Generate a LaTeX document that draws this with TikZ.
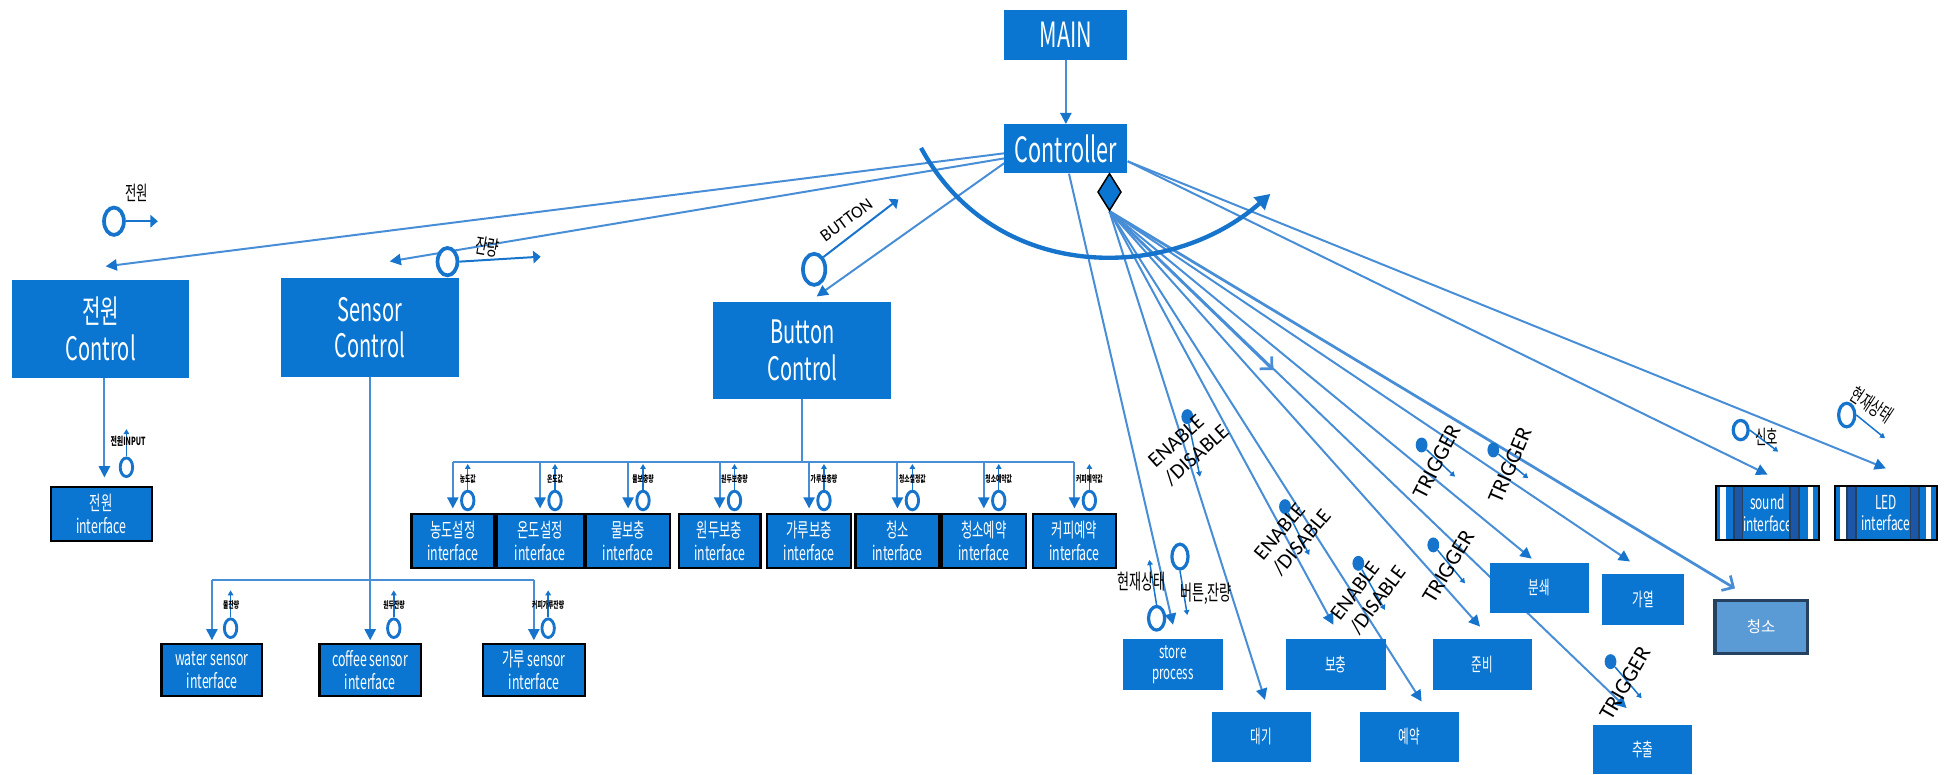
\documentclass[tikz,border=0pt]{standalone}
\usepackage{fontspec}
\usetikzlibrary{arrows.meta,shapes.geometric,calc}
\newfontfamily\kr[FakeStretch=0.62]{Noto Sans CJK KR}
\newfontfamily\krn{Noto Sans CJK KR}
\newfontfamily\calfont{Carlito}
\definecolor{boxblue}{RGB}{10,118,210}
\definecolor{lineblue}{RGB}{72,142,214}
\definecolor{arrblue}{RGB}{22,116,204}
\definecolor{lightbox}{RGB}{91,155,213}
\definecolor{navy}{RGB}{38,64,96}
\definecolor{barfill}{RGB}{28,86,168}
\pgfdeclarelayer{background}
\pgfsetlayers{background,main}
\tikzset{
  ubox/.style={rectangle, fill=boxblue, text=white, inner sep=0pt, align=center, font=\kr\fontsize{15}{17}\selectfont},
  bigbox/.style={ubox, font=\kr\fontsize{26}{29.5}\selectfont},
  topbox/.style={ubox, font=\kr\fontsize{28}{30}\selectfont},
  ifbox/.style={ubox, draw=black, line width=1.8pt, font=\kr\fontsize{16}{18.5}\selectfont},
  ln/.style={draw=lineblue, line width=1.6pt},
  arr/.style={ln, -{Triangle[length=9pt,width=9pt,color=arrblue]}},
  barb/.style={draw=lineblue, line width=2.2pt, -{Straight Barb[length=7pt,width=14pt]}},
  sarr/.style={draw=arrblue, line width=1.2pt, -{Triangle[length=4pt,width=4.5pt]}},
  marr/.style={draw=arrblue, line width=1.6pt, -{Triangle[length=6pt,width=10pt]}},
  oc/.style={ellipse, draw=arrblue, fill=white, line width=3pt, inner sep=0pt, minimum width=16pt, minimum height=22pt},
  mc/.style={oc, line width=2.6pt, minimum width=13pt, minimum height=19pt},
  sc/.style={oc, line width=2.3pt, minimum width=10pt, minimum height=15pt},
  fdot/.style={ellipse, fill=arrblue, inner sep=0pt, minimum width=9.5pt, minimum height=12pt},
  minilab/.style={inner sep=0pt, text=black, font=\kr\bfseries\fontsize{7.5}{8}\selectfont},
  klab/.style={inner sep=0pt, text=black, font=\kr\fontsize{17}{18}\selectfont},
  elab/.style={inner sep=0pt, text=black, align=left, font=\calfont\fontsize{17}{19}\selectfont},
  tlab/.style={inner sep=0pt, text=black, font=\calfont\fontsize{18}{20}\selectfont},
}
\begin{document}
\begin{tikzpicture}[x=1pt,y=-1pt]
\useasboundingbox (0,0) rectangle (1568,623);
% ---------- main nodes
\node[topbox, minimum width=99pt, minimum height=40pt] (main) at (857.5,28) {MAIN};
\node[topbox, minimum width=99pt, minimum height=39.5pt] (ctrl) at (857.5,119.75) {Controller};
\node[diamond, shape aspect=0.63, fill=boxblue, draw=black, line width=1.2pt, inner sep=0pt, minimum width=19pt, minimum height=30pt] (dm) at (892.6,154.5) {};
\node[bigbox, minimum width=142pt, minimum height=79pt] (jwc) at (81,264.5) {전원\\Control};
\node[bigbox, minimum width=143pt, minimum height=79pt] (sen) at (297.5,263.5) {Sensor\\Control};
\node[bigbox, minimum width=143pt, minimum height=78pt] (btn) at (645.5,282) {Button\\Control};
\node[ifbox, minimum width=81pt, minimum height=43pt] (jwi) at (81.5,413.5) {전원\\interface};
\node[ifbox, minimum width=81pt, minimum height=42pt] (ws) at (170.5,539) {water sensor\\interface};
\node[ifbox, minimum width=81.6pt, minimum height=42pt] (cs) at (297.8,539) {coffee sensor\\interface};
\node[ifbox, minimum width=81.7pt, minimum height=42pt] (gs) at (429.5,539) {가루 sensor\\interface};
\node[ifbox, minimum width=66.5pt, minimum height=43.7pt] (b1) at (364.3,435.3) {농도설정\\interface};
\node[ifbox, minimum width=70.2pt, minimum height=43.7pt] (b2) at (434.5,435.3) {온도설정\\interface};
\node[ifbox, minimum width=67.5pt, minimum height=43.7pt] (b3) at (505.3,435.3) {물보충\\interface};
\node[ifbox, minimum width=65.7pt, minimum height=43.7pt] (b4) at (578.9,435.3) {원두보충\\interface};
\node[ifbox, minimum width=67.2pt, minimum height=43.7pt] (b5) at (650.9,435.3) {가루보충\\interface};
\node[ifbox, minimum width=67.5pt, minimum height=43.7pt] (b6) at (722,435.3) {청소\\interface};
\node[ifbox, minimum width=67.6pt, minimum height=43.7pt] (b7) at (791.5,435.3) {청소예약\\interface};
\node[ifbox, minimum width=67.2pt, minimum height=43.7pt] (b8) at (864.4,435.3) {커피예약\\interface};
\node[ubox, minimum width=80pt, minimum height=40.8pt] (store) at (943.7,534.7) {store\\process};
\node[ubox, minimum width=79.7pt, minimum height=40.3pt] (daegi) at (1014.7,592.7) {대기};
\node[ubox, minimum width=80.2pt, minimum height=40.8pt] (bochung) at (1074.7,534.7) {보충};
\node[ubox, minimum width=80pt, minimum height=40.3pt] (yeyak) at (1134,592.7) {예약};
\node[ubox, minimum width=79.6pt, minimum height=40.8pt] (junbi) at (1192.4,534.7) {준비};
\node[ubox, minimum width=79.7pt, minimum height=40.7pt] (bunswae) at (1238.5,473) {분쇄};
\node[ubox, minimum width=66pt, minimum height=40.8pt] (gayeol) at (1322,482.4) {가열};
\node[ubox, minimum width=79.7pt, minimum height=39.7pt] (chuchul) at (1321.6,603.2) {추출};
\node[rectangle, fill=lightbox, draw=navy, line width=2.5pt, text=white, inner sep=0pt, minimum width=74.2pt, minimum height=42.1pt, font=\krn\fontsize{12.5}{14}\selectfont] (cheong) at (1416.8,504.5) {청소};
\node[ubox, minimum width=82pt, minimum height=43.4pt, font=\kr\fontsize{15.5}{17}\selectfont] (snd) at (1422,412.7) {sound\\interface};
\node[ubox, minimum width=81.7pt, minimum height=43.4pt, font=\kr\fontsize{15.5}{17}\selectfont] (led) at (1517.2,412.7) {LED\\interface};
% stripes of sound / LED boxes
\fill[white] ([xshift=3.3pt]snd.south west) rectangle ([xshift=8.1pt]snd.north west);
\fill[white] ([xshift=73.8pt]snd.south west) rectangle ([xshift=77.8pt]snd.north west);
\filldraw[fill=barfill, draw=navy, line width=1.5pt] ([xshift=14.3pt]snd.south west) rectangle ([xshift=21pt]snd.north west);
\filldraw[fill=barfill, draw=navy, line width=1.5pt] ([xshift=59.6pt]snd.south west) rectangle ([xshift=66.5pt]snd.north west);
\draw[black, line width=1.6pt] (snd.south west) rectangle (snd.north east);
\fill[white] ([xshift=4pt]led.south west) rectangle ([xshift=8.8pt]led.north west);
\fill[white] ([xshift=73.2pt]led.south west) rectangle ([xshift=77.2pt]led.north west);
\filldraw[fill=barfill, draw=navy, line width=1.5pt] ([xshift=9.9pt]led.south west) rectangle ([xshift=16.9pt]led.north west);
\filldraw[fill=barfill, draw=navy, line width=1.5pt] ([xshift=60.8pt]led.south west) rectangle ([xshift=67.8pt]led.north west);
\draw[black, line width=1.6pt] (led.south west) rectangle (led.north east);
% ---------- coordinates
\coordinate (sbus) at (297.5,467);
\coordinate (bbus) at (645.5,371.4);
\coordinate (free) at (1024.4,297.7);
% ---------- connectors (behind boxes)
\begin{pgfonlayer}{background}
\draw[arr] (main.south) -- (ctrl.north);
\draw[arr] ([yshift=-3.6pt]ctrl.west) -- ([xshift=4pt,yshift=10.5pt]jwc.north);
\draw[arr] ([yshift=-7.7pt]ctrl.west) -- ([xshift=16pt,yshift=13.5pt]sen.north);
\draw[arr] ([yshift=-11.6pt]ctrl.west) -- ([xshift=11.5pt,yshift=4.3pt]btn.north);
\draw[arr] ([xshift=2.5pt]ctrl.south) -- ([yshift=11.5pt]store.north);
\draw[arr] ([yshift=-10pt]ctrl.east) -- ([yshift=9pt]snd.north);
\draw[arr] ([yshift=-10pt]ctrl.east) -- ([yshift=14pt]led.north);
\draw[arr] (dm.south) -- ([xshift=3pt,yshift=9.3pt]daegi.north);
\draw[arr] (dm.south) -- ([xshift=-2pt,yshift=11.5pt]bochung.north);
\draw[arr] (dm.south) -- ([xshift=9.7pt,yshift=8pt]yeyak.north);
\draw[arr] (dm.south) -- ([xshift=-1.7pt,yshift=10pt]junbi.north);
\draw[arr] (dm.south) -- ([xshift=-6.3pt,yshift=3pt]bunswae.north);
\draw[arr] (dm.south) -- ([xshift=-13pt,yshift=13.5pt]chuchul.north);
\draw[arr] (dm.south) -- ([xshift=-10.7pt,yshift=10.1pt]gayeol.north);
\draw[barb] (dm.south) -- ([xshift=-21pt,yshift=8.8pt]cheong.north);
\draw[barb] (dm.south) -- (free);
% power
\draw[arr] ([xshift=3pt]jwc.south) -- ([xshift=2.5pt,yshift=7pt]jwi.north);
% sensor tree
\draw[ln] (sen.south) -- (sbus);
\draw[ln] (ws.north |- sbus) -- (gs.north |- sbus);
\draw[arr] (ws.north |- sbus) -- ([yshift=2pt]ws.north);
\draw[arr] (cs.north |- sbus) -- ([yshift=2pt]cs.north);
\draw[arr] (gs.north |- sbus) -- ([yshift=2pt]gs.north);
% button tree
\draw[ln] (btn.south) -- (bbus);
\draw[ln] (b1.north |- bbus) -- (b8.north |- bbus);
\foreach \b in {b1,b2,b3,b4,b5,b6,b7,b8}{
  \draw[arr] (\b.north |- bbus) -- ([yshift=3.5pt]\b.north);
}
\end{pgfonlayer}
% ---------- big arc
\draw[draw=arrblue, line width=3.5pt, -{Triangle[length=12pt,width=13pt]}] (741,119) .. controls (800,228) and (940,228) .. (1022,156);
% ---------- interface circles and labels
\node[sc] (jwic) at ([xshift=20.2pt,yshift=15.2pt]jwi.north) {};
\draw[sarr] (jwic.north) -- ++(0,-22);
\node[minilab, font=\kr\bfseries\fontsize{9}{10}\selectfont] (jwil) at (103,355) {전원INPUT};
\node[sc] (wsc) at ([xshift=15pt,yshift=11.7pt]ws.north) {};
\node[sc] (csc) at ([xshift=19pt,yshift=11.7pt]cs.north) {};
\node[sc] (gsc) at ([xshift=11.5pt,yshift=11.7pt]gs.north) {};
\foreach \c in {wsc,csc,gsc}{ \draw[sarr] (\c.north) -- ++(0,-21.8); }
\node[minilab] (wsl) at (186,486.7) {물잔량};
\node[minilab] (csl) at (317,486.7) {원두잔량};
\node[minilab] (gsl) at (441,486.7) {커피가루잔량};
\foreach \b/\t in {b1/농도값,b2/온도값,b3/물보충량,b4/원두보충량,b5/가루보충량,b6/청소설정값,b7/청소예약값,b8/커피예약값}{
  \node[sc] (\b c) at ([xshift=12pt,yshift=9.9pt]\b.north) {};
  \draw[sarr] (\b c.north) -- ++(0,-20.7);
  \node[minilab] (\b l) at ([yshift=17.6pt]\b c.center) {\t};
}
% ---------- top labels
\node[oc] (pwc) at (91.7,178) {};
\draw[marr] (pwc.east) -- (127,178);
\node[klab, font=\kr\fontsize{16}{18}\selectfont] (pwl) at (110,155.5) {전원};
\node[oc] (rmc) at (360,210.5) {};
\draw[marr] (rmc.east) -- (435,206.5);
\node[klab, rotate=-10] (rml) at (392,198.5) {잔량};
\node[oc, minimum width=18pt, minimum height=25pt] (bnc) at (655,216.7) {};
\draw[marr] (bnc.north east) -- (722.7,160.4);
\node[inner sep=0pt, text=black, rotate=36, font=\calfont\fontsize{14}{16}\selectfont] (bnl) at (681,177) {BUTTON};
% ---------- store labels
\node[mc] (stc1) at (930.5,497.4) {};
\draw[sarr] (stc1.north) -- (924.6,450.5);
\node[klab] (stl1) at (918.5,468) {현재상태};
\node[mc, minimum height=20pt] (stc2) at (949.3,447.8) {};
\draw[sarr] (stc2.south) -- (955.2,494.8);
\node[klab] (stl2) at (970.2,477.3) {버튼,잔량};
% ---------- enable / trigger
\node[fdot] (ed1) at (955.2,335.2) {};
\draw[sarr] (ed1) -- (965.4,383.5);
\node[elab, rotate=42] (el1) at (956.3,359) {ENABLE\\/DISABLE};
\node[fdot] (ed2) at (1033.8,407.6) {};
\draw[sarr] (ed2) -- (1053.3,446.5);
\node[elab, rotate=50] (el2) at (1040,430.2) {ENABLE\\/DISABLE};
\node[fdot] (ed3) at (1092.8,453.2) {};
\draw[sarr] (ed3) -- (1114.2,490.7);
\node[elab, rotate=53] (el3) at (1100.8,477.3) {ENABLE\\/DISABLE};
\node[fdot] (td1) at (1143.7,358) {};
\draw[sarr] (td1) -- (1170.6,383.5);
\node[tlab, rotate=63] (tl1) at (1155.8,371.4) {TRIGGER};
\node[fdot] (td2) at (1201.4,362) {};
\draw[sarr] (td2) -- (1229.5,384.8);
\node[tlab, rotate=67] (tl2) at (1214.8,374) {TRIGGER};
\node[fdot] (td3) at (1153.1,438.4) {};
\draw[sarr] (td3) -- (1178.6,469.3);
\node[tlab, rotate=59] (tl3) at (1165.2,455.9) {TRIGGER};
\node[fdot] (td4) at (1295.7,532.3) {};
\draw[sarr] (td4) -- (1320.7,561.8);
\node[tlab, rotate=60] (tl4) at (1307.3,549.7) {TRIGGER};
% ---------- sound / LED labels
\node[mc, minimum width=12pt, minimum height=15.5pt] (sgc) at (1400.4,346) {};
\draw[sarr] (sgc.east) -- (1430.6,363.4);
\node[klab, font=\kr\fontsize{16}{18}\selectfont] (sgl) at (1421.3,351.3) {신호};
\node[mc] (lsc) at (1485.7,333.9) {};
\draw[sarr] (lsc.east) -- (1516.5,352.6);
\node[klab, rotate=-33, font=\kr\fontsize{16}{18}\selectfont] (lsl) at (1505.8,325.8) {현재상태};
\end{tikzpicture}
\end{document}
